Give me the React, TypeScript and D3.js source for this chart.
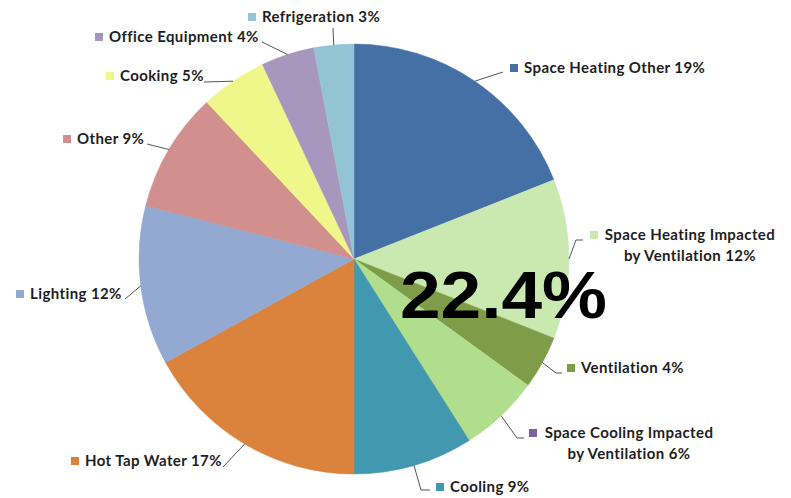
import { useEffect, useRef } from "react";
import * as d3 from "d3";

const CATEGORIES = [
  "Space Heating Other",
  "Space Heating Impacted by Ventilation",
  "Ventilation",
  "Space Cooling Impacted by Ventilation",
  "Cooling",
  "Hot Tap Water",
  "Lighting",
  "Other",
  "Cooking",
  "Office Equipment",
  "Refrigeration",
];
const VALUES = [19, 12, 4, 6, 9, 17, 12, 9, 5, 4, 3];
const SLICE_COLORS = [
  "#4570a6", "#cae9b0", "#7f9d49", "#b0de8c", "#4298ae", "#db833d",
  "#93a9d1", "#d18f8d", "#eff78b", "#a797bf", "#93c4d5",
];
// legend swatches (one of them doesn't match its slice in the source)
const SWATCH_COLORS = [
  "#4570a6", "#cae9b0", "#7f9d49", "#7f60a1", "#4298ae", "#db833d",
  "#93a9d1", "#d18f8d", "#eff78b", "#a797bf", "#93c4d5",
];
// label text lines per slice
const LABEL_LINES = [
  ["Space Heating Other 19%"],
  ["Space Heating Impacted", "by Ventilation 12%"],
  ["Ventilation 4%"],
  ["Space Cooling Impacted", "by Ventilation 6%"],
  ["Cooling 9%"],
  ["Hot Tap Water 17%"],
  ["Lighting 12%"],
  ["Other 9%"],
  ["Cooking 5%"],
  ["Office Equipment 4%"],
  ["Refrigeration 3%"],
];
const CENTER_NOTE = "22.4%";

// label placement: swatch left x / center y, optional centered text x, leader bend points
const LABEL_LAYOUT: { sx: number; sy: number; cx?: number; leader: [number, number][] }[] = [
  { sx: 510, sy: 68, leader: [[503, 72]] },
  { sx: 590, sy: 235, cx: 690, leader: [[576, 240], [583, 240]] },
  { sx: 567, sy: 368, leader: [[556, 373], [562, 373]] },
  { sx: 529, sy: 433, cx: 629, leader: [[517, 438], [524, 438]] },
  { sx: 436, sy: 487, leader: [[421, 490], [430, 490]] },
  { sx: 71, sy: 461, leader: [[223, 467]] },
  { sx: 16, sy: 294, leader: [[125, 299]] },
  { sx: 63, sy: 139, leader: [[147, 144]] },
  { sx: 106, sy: 76, leader: [[204, 82]] },
  { sx: 95, sy: 37, leader: [[262, 42]] },
  { sx: 248, sy: 17, leader: [[333, 28]] },
];

const W = 791;
const H = 498;
const CX = 354;
const CY = 259;
const R = 215;

export default function App() {
  const svgRef = useRef<SVGSVGElement>(null);

  useEffect(() => {
    const svg = d3.select(svgRef.current);
    svg.selectAll("*").remove();

    const data = CATEGORIES.map((c, i) => ({ name: c, value: VALUES[i], i }));
    const pie = d3.pie<typeof data[number]>().value((d) => d.value).sort(null);
    const arcs = pie(data);
    const arc = d3.arc<d3.PieArcDatum<typeof data[number]>>().innerRadius(0).outerRadius(R);

    const g = svg.append("g").attr("transform", `translate(${CX},${CY})`);
    g.selectAll("path.slice")
      .data(arcs)
      .enter()
      .append("path")
      .attr("class", "slice")
      .attr("d", arc)
      .attr("fill", (d) => SLICE_COLORS[d.data.i])
      .attr("stroke", (d) => SLICE_COLORS[d.data.i])
      .attr("stroke-width", 0.5);

    // leader lines: start on the rim at the slice's mid angle
    const line = d3.line();
    arcs.forEach((a) => {
      const mid = (a.startAngle + a.endAngle) / 2;
      const p0: [number, number] = [CX + R * Math.sin(mid), CY - R * Math.cos(mid)];
      const lay = LABEL_LAYOUT[a.data.i];
      svg.append("path")
        .attr("d", line([p0, ...lay.leader]))
        .attr("fill", "none")
        .attr("stroke", "#555")
        .attr("stroke-width", 1);
    });

    // labels
    arcs.forEach((a) => {
      const i = a.data.i;
      const lay = LABEL_LAYOUT[i];
      const lines = LABEL_LINES[i];
      svg.append("rect")
        .attr("x", lay.sx).attr("y", lay.sy - 4)
        .attr("width", 8).attr("height", 8)
        .attr("fill", SWATCH_COLORS[i]);
      lines.forEach((t, k) => {
        svg.append("text")
          .attr("x", lay.cx ?? lay.sx + 14)
          .attr("y", lay.sy + k * 21)
          .attr("dy", "0.35em")
          .attr("text-anchor", lay.cx ? "middle" : "start")
          .attr("font-family", "Lato, 'Open Sans', sans-serif")
          .attr("font-weight", 700)
          .attr("font-size", "15px")
          .attr("letter-spacing", "0.4px")
          .attr("fill", "#1e1e1e")
          .text(t);
      });
    });

    svg.append("text")
      .attr("x", 400).attr("y", 318)
      .attr("font-family", "'Liberation Sans', Arial, sans-serif")
      .attr("font-weight", 700)
      .attr("font-size", "66px")
      .attr("textLength", 207)
      .attr("lengthAdjust", "spacingAndGlyphs")
      .attr("fill", "#000")
      .text(CENTER_NOTE);
  }, []);

  return (
    <svg
      ref={svgRef}
      width={W}
      height={H}
      style={{ position: "absolute", left: 0, top: 0, background: "#fff" }}
    />
  );
}
